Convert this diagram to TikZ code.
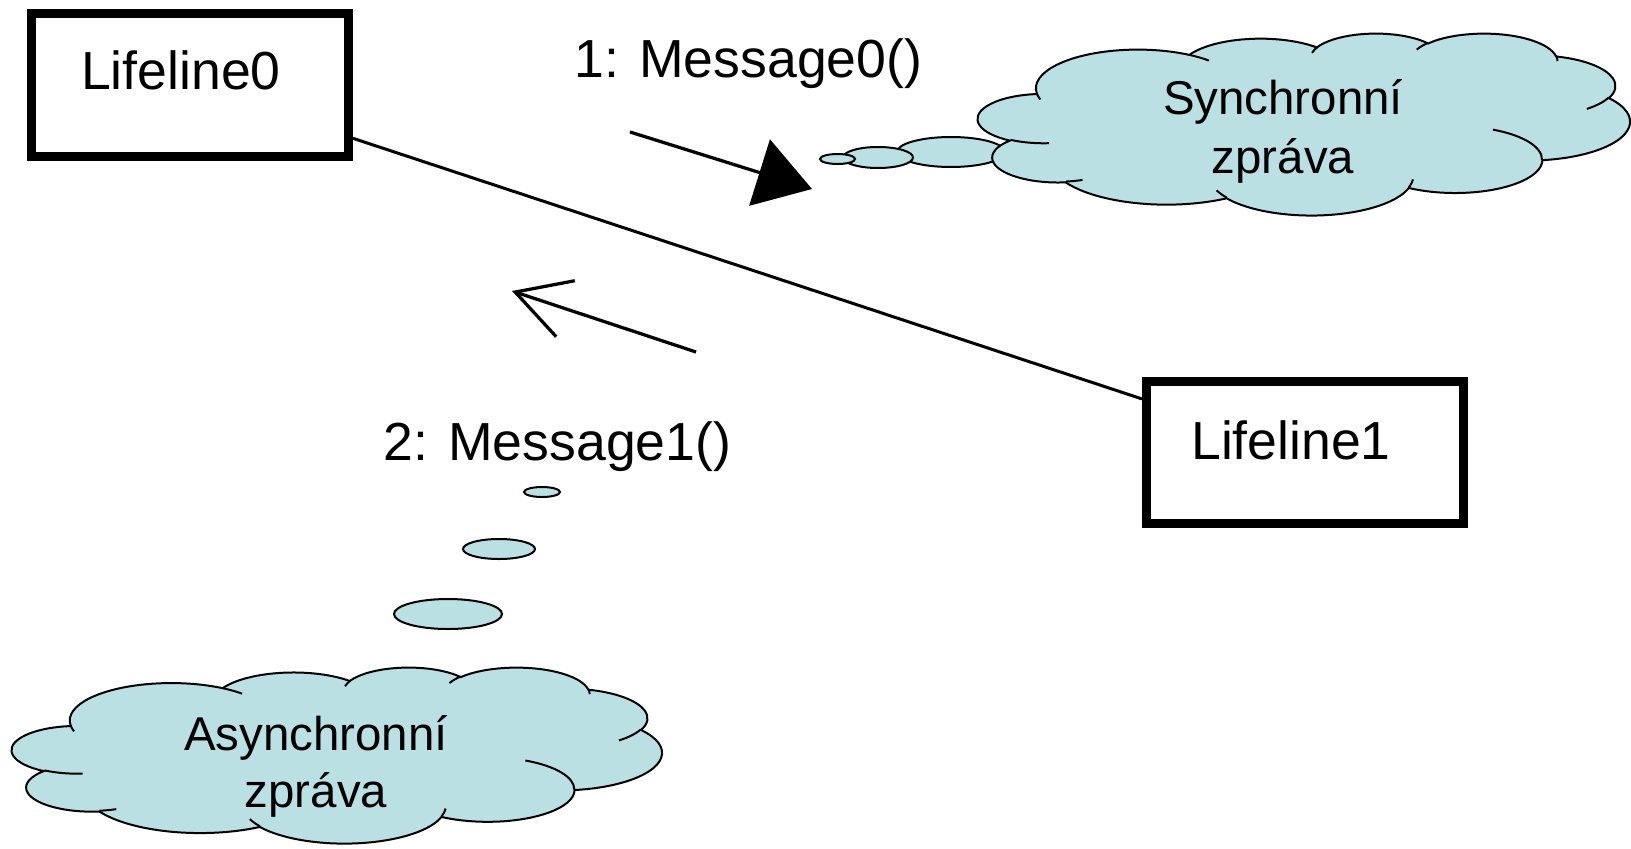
\documentclass[tikz,border=0pt]{standalone}
\usepackage{fontspec}
\setmainfont{Liberation Sans}
\usetikzlibrary{arrows.meta}
\definecolor{cloudfill}{RGB}{187,224,227}
\tikzset{
  ca/.style n args={4}{x radius=#1, y radius=#2,
    start angle={vis(#3,#1,#2)}, end angle={vis(#3+#4,#1,#2)}},
  cloudshape/.style={fill=cloudfill, draw=black, line width=0.04cm},
  cloudmark/.style={draw=black, line width=0.04cm},
  bubble/.style={fill=cloudfill, draw=black, line width=0.04cm},
  lifebox/.style={draw=black, line width=0.18cm, rectangle, inner sep=0pt},
  lbl/.style={font=\fontsize{30.5}{36}\selectfont, inner sep=0pt, anchor=base},
  cltxt/.style={font=\fontsize{27}{32}\selectfont, inner sep=0pt, anchor=base},
  msg/.style={draw=black, line width=0.065cm},
}
\newcommand\mycloud{%
  \filldraw[cloudshape] (39.00,143.70)
    arc[ca={67.53}{91.90}{-190.4875}{123.7805}]
    arc[ca={53.33}{72.67}{-144.1024}{89.9452}]
    arc[ca={43.65}{59.45}{-145.8079}{99.7230}]
    arc[ca={48.57}{65.95}{-130.9861}{117.2417}]
    arc[ca={53.33}{72.73}{-78.7089}{109.0269}]
    arc[ca={67.75}{92.20}{-46.2673}{130.2690}]
    arc[ca={57.85}{78.67}{0.6250}{114.0333}]
    arc[ca={67.52}{92.15}{22.4516}{115.1726}]
    arc[ca={77.20}{105.43}{66.2426}{75.7110}]
    arc[ca={43.60}{59.18}{-274.9421}{146.7356}]
    arc[ca={43.45}{59.45}{-246.8285}{152.5189}]
    -- cycle;
  \draw[cloudmark]
    (46.93,261.77) arc[ca={43.45}{59.45}{86.7420}{26.4295}]
    (69.28,348.99) arc[ca={43.60}{59.18}{73.6105}{11.4475}]
    (164.78,390.90) arc[ca={67.52}{92.15}{137.6242}{14.0811}]
    (288.27,347.51) arc[ca={67.52}{92.15}{6.4533}{15.9984}]
    (341.29,229.54) arc[ca={57.85}{78.67}{-70.2924}{70.9174}]
    (417.98,153.54) arc[ca={53.33}{72.73}{30.3180}{27.7515}]
    (383.24,54.26) arc[ca={48.57}{65.95}{-13.7443}{14.8589}]
    (290.78,39.52) arc[ca={48.57}{65.95}{-149.1815}{18.1954}]
    (221.41,47.20) arc[ca={43.65}{59.45}{-163.4943}{17.6864}]
    (140.00,51.92) arc[ca={67.53}{91.90}{-66.7070}{12.3194}]
    (41.27,157.89) arc[ca={67.53}{91.90}{157.6544}{11.8582}];
}
\begin{document}
\begin{tikzpicture}[x=0.02cm, y=-0.02cm,
  declare function={vis(\a,\w,\h)=\a + mod(atan2(\w*sin(\a), \h*cos(\a)) - \a + 540, 360) - 180;}]
\useasboundingbox (0,0) rectangle (1631,848);

% lifelines
\node[lifebox, minimum width=6.34cm, minimum height=2.86cm] (L0) at (190,85) {};
\node[lifebox, minimum width=6.34cm, minimum height=2.84cm] (L1) at (1305,452.5) {};
\node[lbl] (L0t) at (181,90) {Lifeline0};
\node[lbl] (L1t) at (1291,459) {Lifeline1};
\draw[line width=0.06cm] (L0) -- (L1);

% messages
\node[lbl] (m0) at (748.5,77) {1: Message0()};
\node[lbl] (m1) at (557.5,460) {2: Message1()};
\coordinate (a0s) at (630,132);
\coordinate (a0e) at (812,189);
\draw[msg, -{Triangle[length=1.1cm, width=1.38cm]}] (a0s) -- (a0e);
\coordinate (a1s) at (696,352);
\coordinate (a1e) at (512,291);
\draw[msg, -{Straight Barb[length=1.06cm, width=1.18cm]}] (a1s) -- (a1e);

% synchronous cloud
\draw[bubble] (951,152) ellipse [x radius=54, y radius=15];
\draw[bubble] (878,157.5) ellipse [x radius=35, y radius=10.5];
\draw[bubble] (837.5,159) ellipse [x radius=17.5, y radius=5];
\begin{scope}[shift={(978,33)}, x=0.030185cm, y=-0.008426cm]
\mycloud
\end{scope}
\node[cltxt] (s1) at (1283,114) {Synchronní};
\node[cltxt] (s2) at (1283,173) {zpráva};

% asynchronous cloud
\draw[bubble] (542,492) ellipse [x radius=18, y radius=5];
\draw[bubble] (499,549) ellipse [x radius=36, y radius=10];
\draw[bubble] (448,614) ellipse [x radius=54, y radius=15];
\begin{scope}[shift={(12,667)}, x=0.030093cm, y=-0.008148cm]
\mycloud
\end{scope}
\node[cltxt] (as1) at (316,750) {Asynchronní};
\node[cltxt] (as2) at (316,807) {zpráva};
\end{tikzpicture}
\end{document}
